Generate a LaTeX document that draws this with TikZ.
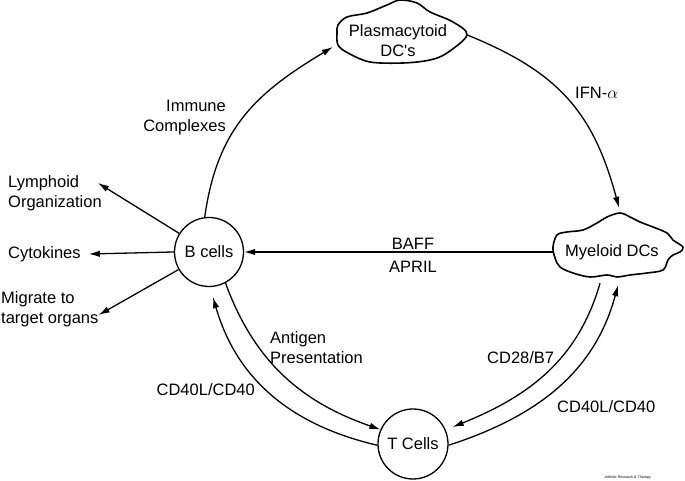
\documentclass[tikz,border=0pt]{standalone}
\usepackage{fontspec}
\setmainfont{Liberation Sans}
\usetikzlibrary{arrows.meta, positioning}

\tikzset{
  cell/.style={circle, draw, line width=1.3pt, minimum size=69pt, inner sep=0pt},
  dc/.style={inner sep=0pt, align=center},
  lbl/.style={inner sep=0pt, align=left},
  link/.style={line width=1.3pt, -{Latex[length=11pt,width=6.5pt]}},
  blob/.style={line width=1.6pt, line join=round},
}

\begin{document}
\begin{tikzpicture}[x=1pt, y=1pt, font=\fontsize{16.5}{20}\selectfont]
  \useasboundingbox (0,0) rectangle (685,481);
  % Zellen
  \node[cell] (B) at (209,229) {B cells};
  \node[cell, minimum size=70pt] (T) at (413,37) {T Cells};
  \node[dc, minimum width=130pt] (P) at (398,440) {Plasmacytoid\\DC\textquotesingle s};
  \node[dc, minimum width=116pt, minimum height=62pt] (M) at (612,229) {Myeloid DCs};

  % Wolken
  \draw[blob, shift={(P.center)}] plot[smooth cycle, tension=0.55] coordinates {
    (-61,8) (-60,-4) (-50,-12) (-28,-21) (5,-22) (32,-19) (49,-12) (69,6)
    (55,19) (32,29) (19,38) (2,41) (-11,36) (-31,28) (-51,24) (-60,16)};
  \draw[blob, shift={(M.center)}] plot[smooth cycle, tension=0.55] coordinates {
    (-5,35) (8,39) (18,35) (28,30) (41,25) (55,19) (61,12) (71,5) (68,0)
    (61,-3) (56,-8) (51,-18) (35,-21) (18,-23) (5,-25) (-5,-23) (-22,-25)
    (-39,-21) (-52,-15) (-57,-6) (-59,5) (-55,17) (-45,20) (-29,22) (-15,29)};

  % Pfeile im Kreis
  \draw[link] (B.97) to[out=82, in=211, looseness=1.08] ([yshift=-6pt]P.west);
  \draw[link] ([shift={(4pt,6pt)}]P.east) to[out=-22, in=105, looseness=1.1] ([shift={(7pt,13pt)}]M.north);
  \draw[link] (M.west) -- (B.east);
  \draw[link] (B.-62) to[out=-70, in=161] (T.156);
  \draw[link] (T.182) to[out=167, in=-74] ([shift={(4pt,-10pt)}]B.south);
  \draw[link] ([xshift=-12pt]M.south) to[out=-106, in=22] ([shift={(4pt,17pt)}]T.east);
  \draw[link] (T.-2) to[out=18, in=-105] ([shift={(6pt,-2pt)}]M.south);

  % Ausgaenge der B-Zellen
  \node[lbl, anchor=west] (L) at (8,288) {Lymphoid\\Organization};
  \node[lbl, anchor=west] (C) at (8,227) {Cytokines};
  \node[lbl, anchor=west] (G) at (1,172) {Migrate to\\target organs};
  \draw[link] (B.148) -- ([shift={(-4pt,10pt)}]L.east);
  \draw[link] (B.west) -- ([xshift=8pt]C.east);
  \draw[link] (B.210) -- ([yshift=-6pt]G.east);

  % Beschriftungen
  \node[lbl, align=right, anchor=east] (IC) at (226,363) {Immune\\Complexes};
  \node[lbl, anchor=west] (IFN) at (575,388) {IFN-$\alpha$};
  \node[lbl] (BAFF) at (413,237) {BAFF};
  \node[lbl] (APRIL) at (413,214) {APRIL};
  \node[lbl, anchor=west] (AG) at (270,133) {Antigen\\Presentation};
  \node[lbl, anchor=east] (CDl) at (255,91) {CD40L/CD40};
  \node[lbl, anchor=west] (CD28) at (487,123) {CD28/B7};
  \node[lbl, anchor=west] (CDr) at (557,74) {CD40L/CD40};
  \node[lbl, anchor=south east, font=\fontsize{3.6}{4}\selectfont\itshape] (src) at (651,1.5) {Arthritis Research \& Therapy};
\end{tikzpicture}
\end{document}
